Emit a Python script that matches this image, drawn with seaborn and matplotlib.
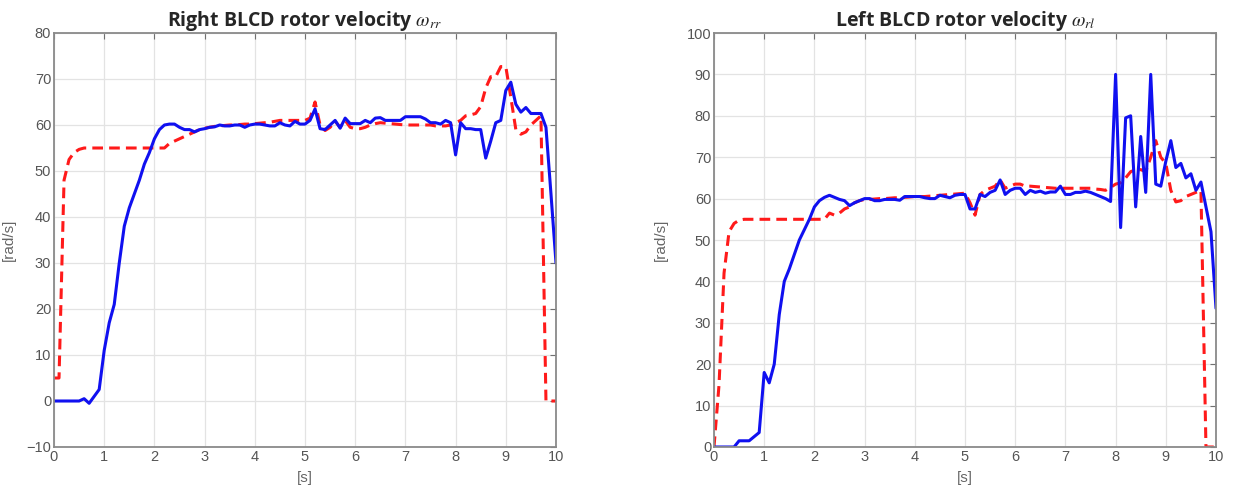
import numpy as np
import pandas as pd
import seaborn as sns
import matplotlib.pyplot as plt

# time axis, sampled every 0.1 s
t = np.round(np.arange(0, 10.01, 0.1), 1)

# right BLCD: measured (blue) and reference (red dashed)
right_meas = [0, 0, 0, 0, 0, 0, 0.5, -0.5, 1, 2.5,
              11, 17, 21, 30, 38, 42, 45, 48, 51.5, 54,
              57, 59, 60, 60.2, 60.2, 59.5, 59, 59, 58.5, 59,
              59.2, 59.5, 59.6, 60, 59.8, 59.8, 60, 60, 59.5, 60,
              60.2, 60.2, 60, 59.8, 59.8, 60.5, 60, 59.8, 60.8, 60.2,
              60.2, 61, 63.5, 59.2, 59, 60, 61, 59.3, 61.5, 60.3,
              60.3, 60.3, 61, 60.5, 61.5, 61.6, 61, 61, 61, 61,
              61.8, 61.8, 61.8, 61.8, 61.3, 60.5, 60.5, 60.2, 61, 60.5,
              53.5, 60.5, 59.2, 59.2, 59, 59, 52.8, 56.5, 60.5, 61,
              67.5, 69.3, 64.5, 62.8, 63.8, 62.5, 62.5, 62.5, 59.5, 45,
              30]
right_ref = [5, 5, 48, 52.5, 54, 54.7, 55, 55, 55, 55,
             55, 55, 55, 55, 55, 55, 55, 55, 55, 55,
             55, 55, 55, 56, 56.5, 57, 57.5, 58, 58.5, 59,
             59.3, 59.5, 59.7, 59.8, 59.9, 60, 60, 60.1, 60.2, 60.2,
             60.3, 60.4, 60.5, 60.6, 60.8, 61, 61, 61, 61, 61,
             61, 61.5, 65, 60, 58.8, 59.5, 60.8, 59.5, 61, 59.5,
             59.2, 59.2, 59.5, 60, 60.3, 60.5, 60.4, 60.3, 60.2, 60.1,
             60, 60, 60, 60, 60, 60, 59.8, 59.8, 59.8, 60,
             60.5, 61, 62, 62.2, 62.5, 64, 68, 70.5, 70.5, 72.7,
             72.7, 66, 59, 58, 58.5, 60, 61, 62, 0, 0,
             0]

# left BLCD: measured (blue) and reference (red dashed)
left_meas = [0, 0, 0, 0, 0, 1.5, 1.5, 1.5, 2.5, 3.5,
             18, 15.5, 20, 32, 40, 43, 46.5, 50, 52.5, 55,
             58, 59.5, 60.3, 60.8, 60.3, 59.8, 59.5, 58.3, 59, 59.5,
             60, 60, 59.5, 59.5, 59.8, 59.8, 59.8, 59.6, 60.5, 60.5,
             60.5, 60.5, 60.2, 60, 60, 60.8, 60.5, 60.2, 60.8, 61,
             61, 57.5, 57.5, 61, 60.5, 61.5, 62, 64.5, 61, 62,
             62.5, 62.5, 61, 62, 61.5, 61.8, 61.3, 61.6, 61.6, 63,
             61, 61, 61.5, 61.5, 61.8, 61.5, 61, 60.5, 60, 59.3,
             90, 53, 79.5, 80, 58, 75, 61.5, 90, 63.5, 63,
             69, 74, 67.5, 68.5, 65, 66, 62, 64, 58, 52,
             33.5]
left_ref = [0, 15, 42, 52, 54, 54.8, 55, 55, 55, 55,
            55, 55, 55, 55, 55, 55, 55, 55, 55, 55,
            55, 55, 55, 56.5, 56, 56.5, 57.5, 58, 59, 59.5,
            59.8, 59.8, 59.9, 60, 60, 60.1, 60.2, 60.2, 60.3, 60.4,
            60.5, 60.5, 60.5, 60.6, 60.7, 60.8, 60.9, 61, 61.1, 61.2,
            61.3, 59, 56, 61, 62, 62.5, 63, 64.5, 62.5, 63,
            63.5, 63.5, 63, 63, 62.9, 62.8, 62.7, 62.6, 62.5, 62.5,
            62.5, 62.5, 62.5, 62.5, 62.5, 62.5, 62.3, 62.2, 62, 62.7,
            63.5, 63.8, 65, 66.5, 67, 67, 66.5, 70, 74, 70,
            68.5, 62, 59.2, 59.5, 60.5, 61, 61.5, 62, 0, 0,
            0]

titles = [r"Right BLCD rotor velocity $\omega_{rr}$",
          r"Left BLCD rotor velocity $\omega_{rl}$"]
ylims = [(-10, 80), (0, 100)]
ylabel_x = [-0.076, -0.092]

sns.set_style("whitegrid")
plt.rcParams['font.family'] = ['Liberation Sans', 'DejaVu Sans']
plt.rcParams['mathtext.fontset'] = 'stix'

fig = plt.figure(figsize=(12.4, 4.93), dpi=100)
ax1 = fig.add_axes([54 / 1240, 46 / 493, 502 / 1240, 414 / 493])
ax2 = fig.add_axes([714 / 1240, 46 / 493, 502 / 1240, 414 / 493])

for ax, meas, ref, title, ylim, lx in zip([ax1, ax2], [right_meas, left_meas],
                                          [right_ref, left_ref], titles, ylims,
                                          ylabel_x):
    df = pd.DataFrame({'t': t, 'meas': meas, 'ref': ref})
    sns.lineplot(data=df, x='t', y='ref', ax=ax, color='#ff1a1a', lw=2.2,
                 linestyle=(0, (3.5, 2)))
    sns.lineplot(data=df, x='t', y='meas', ax=ax, color='#1010f0', lw=2.2)
    ax.set_xlim(0, 10)
    ax.set_ylim(*ylim)
    ax.set_xticks(range(0, 11))
    ax.set_yticks(range(ylim[0], ylim[1] + 1, 10))
    ax.grid(True, color='#e3e3e3', lw=0.9)
    ax.tick_params(direction='in', top=True, right=True, length=4,
                   width=0.8, color='#707070', labelcolor='#555555',
                   labelsize=10.5, pad=2)
    for s in ax.spines.values():
        s.set_color('#8a8a8a')
        s.set_linewidth(1.3)
    ax.set_xlabel('[s]', color='#666666', fontsize=11, labelpad=5)
    ax.set_ylabel('[rad/s]', color='#666666', fontsize=11)
    ax.yaxis.set_label_coords(lx, 0.5)
    ax.set_title(title, fontsize=14, fontweight='bold', family='Open Sans',
                 pad=5)

fig.savefig('out.png', dpi=100, facecolor='white')
